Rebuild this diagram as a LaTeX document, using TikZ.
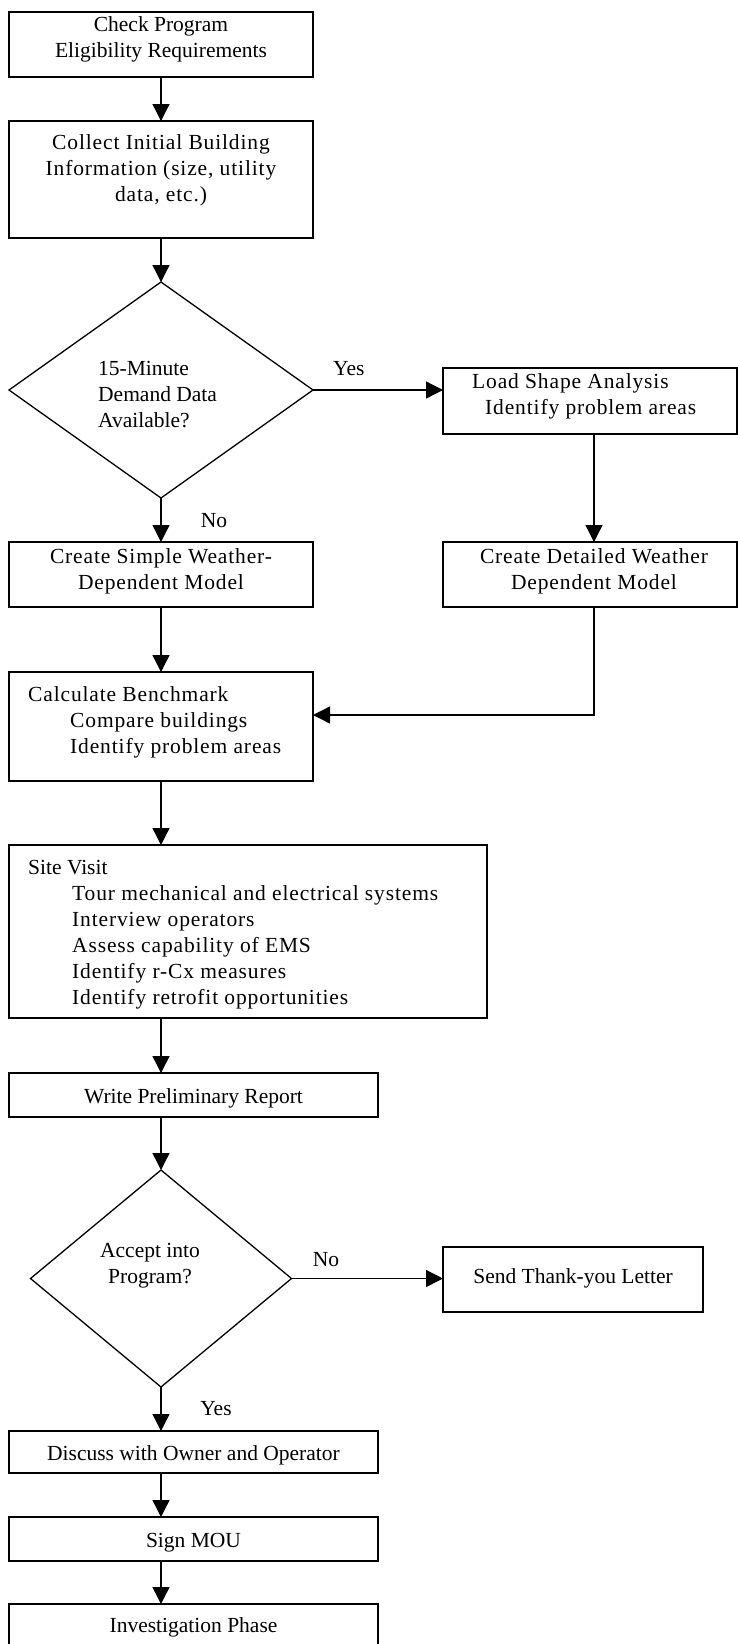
\documentclass[tikz,border=0pt]{standalone}
\usepackage{fontspec}
\setmainfont{Liberation Serif}
\newfontfamily\spaced[LetterSpace=4]{Liberation Serif}
\usetikzlibrary{shapes.geometric,arrows.meta}
\begin{document}
\begin{tikzpicture}[x=1pt,y=-1pt,
  box/.style={draw, line width=1.5pt, inner sep=0pt, outer sep=0pt},
  dia/.style={draw, diamond, line width=1.3pt, inner sep=0pt, outer sep=0pt},
  txt/.style={inner sep=0pt, font=\fontsize{21.5}{26}\selectfont, execute at begin node=\strut, execute at end node=\strut},
  stxt/.style={txt, font=\spaced\fontsize{21.5}{26}\selectfont},
  arr/.style={line width=1.3pt, -{Triangle[length=17pt,width=17pt]}}]
\useasboundingbox (0,0) rectangle (737,1644);
\fill[white] (0,0) rectangle (737,1644);
% boxes
\node[box, minimum width=304pt, minimum height=65pt] (b1) at (161,44.5) {};
\node[box, minimum width=304pt, minimum height=117pt] (b2) at (161,179.5) {};
\node[dia, minimum width=304pt, minimum height=216pt] (d1) at (161,390) {};
\node[box, minimum width=294pt, minimum height=66pt] (load) at (590,401) {};
\node[box, minimum width=304pt, minimum height=65pt] (simple) at (161,574.5) {};
\node[box, minimum width=294pt, minimum height=65pt] (detailed) at (590,574.5) {};
\node[box, minimum width=304pt, minimum height=109pt] (calc) at (161,726.5) {};
\node[box, minimum width=478pt, minimum height=173pt] (site) at (248,931.5) {};
\node[box, minimum width=369pt, minimum height=44pt] (write) at (193.5,1095) {};
\node[dia, minimum width=261pt, minimum height=217pt] (d2) at (161,1278.5) {};
\node[box, minimum width=260pt, minimum height=65pt] (send) at (573,1279.5) {};
\node[box, minimum width=369pt, minimum height=42pt] (discuss) at (193.5,1452) {};
\node[box, minimum width=369pt, minimum height=44pt] (sign) at (193.5,1539) {};
\node[box, minimum width=369pt, minimum height=43pt] (invest) at (193.5,1625.5) {};
% texts
\node[txt, align=center] (t1) at (161,41) {Check Program\\Eligibility Requirements};
\node[stxt, align=center] (t2) at (161,172) {Collect Initial Building\\Information (size, utility\\data, etc.)};
\node[txt, align=left, anchor=west] (t3) at (98,398) {15-Minute\\Demand Data\\Available?};
\node[txt, anchor=base west] (yes1) at (333,375) {Yes};
\node[stxt, align=left, anchor=west] (t4) at (472,398) {Load Shape Analysis\\\hspace*{13pt}Identify problem areas};
\node[txt, anchor=base] (no1) at (214,527) {No};
\node[stxt, align=center] (t5) at (161,572.5) {Create Simple Weather-\\Dependent Model};
\node[stxt, align=center] (t6) at (594,572.5) {Create Detailed Weather\\Dependent Model};
\node[stxt, align=left, anchor=west] (t7) at (28,723.5) {Calculate Benchmark\\\hspace*{42pt}Compare buildings\\\hspace*{42pt}Identify problem areas};
\node[stxt, align=left, anchor=west] (t8) at (28,936) {{\rmfamily Site Visit}\\\hspace*{44pt}Tour mechanical and electrical systems\\\hspace*{44pt}Interview operators\\\hspace*{44pt}Assess capability of EMS\\\hspace*{44pt}Identify r-Cx measures\\\hspace*{44pt}Identify retrofit opportunities};
\node[txt, anchor=base] (t9) at (193.5,1103) {Write Preliminary Report};
\node[txt, align=center] (t10) at (150,1267.5) {Accept into\\Program?};
\node[txt, anchor=base] (no2) at (326,1266) {No};
\node[txt, anchor=base] (t11) at (573,1283) {Send Thank-you Letter};
\node[txt, anchor=base] (yes2) at (216,1415) {Yes};
\node[txt, anchor=base] (t12) at (193.5,1460) {Discuss with Owner and Operator};
\node[txt, anchor=base] (t13) at (193.5,1547) {Sign MOU};
\node[txt, anchor=base] (t14) at (193.5,1632) {Investigation Phase};
% connectors
\draw[arr] (b1.south) -- (b2.north);
\draw[arr] (b2.south) -- (d1.north);
\draw[arr] (d1.east) -- (d1.east -| load.west);
\draw[arr] (d1.south) -- (simple.north);
\draw[arr] ([xshift=4pt]load.south) -- ([xshift=4pt]detailed.north);
\draw[arr] (simple.south) -- (calc.north);
\draw[arr] ([xshift=4pt]detailed.south) |- ([yshift=11.5pt]calc.east);
\draw[arr] (calc.south) -- (calc.south |- site.north);
\draw[arr] (calc.south |- site.south) -- (calc.south |- write.north);
\draw[arr] (d2.north |- write.south) -- (d2.north);
\draw[arr] (d2.east) -- (d2.east -| send.west);
\draw[arr] (d2.south) -- (d2.south |- discuss.north);
\draw[arr] (d2.south |- discuss.south) -- (d2.south |- sign.north);
\draw[arr] (d2.south |- sign.south) -- (d2.south |- invest.north);
\end{tikzpicture}
\end{document}
